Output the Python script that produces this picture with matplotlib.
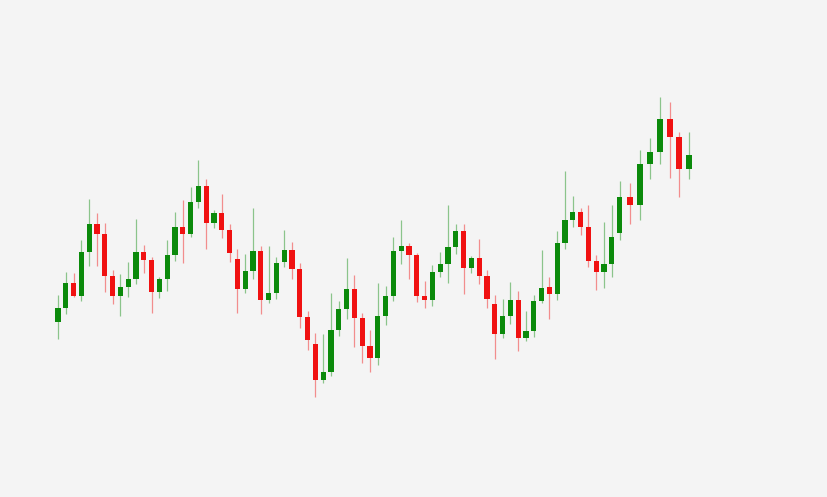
import matplotlib
matplotlib.use("Agg")
import matplotlib.pyplot as plt

# sample times (the last candles are spaced slightly wider in the source)
t = list(range(73)) + [73.33, 74.62, 75.90, 77.18, 78.46, 79.62, 80.90]

opens = [178, 192, 217, 204, 248, 276, 266, 224, 204, 213,
         221, 248, 240, 208, 221, 245, 273, 266, 298, 314,
         277, 287, 270, 241, 211, 229, 249, 200, 207, 238,
         250, 231, 183, 156, 120, 128, 170, 191, 211, 182,
         154, 142, 184, 204, 249, 254, 245, 204, 200, 228,
         236, 253, 269, 232, 242, 224, 196, 166, 184, 200,
         162, 169, 199, 213, 206, 257, 280, 288, 273, 239,
         228, 236, 267, 303, 295, 336, 348, 381, 363, 331]
closes = [192, 217, 204, 248, 276, 266, 224, 204, 213, 221,
          248, 240, 208, 221, 245, 273, 266, 298, 314, 277,
          287, 270, 247, 211, 229, 249, 200, 207, 237, 250,
          231, 183, 160, 120, 128, 170, 191, 211, 182, 154,
          142, 184, 204, 249, 254, 245, 204, 200, 228, 236,
          253, 269, 232, 242, 224, 201, 166, 184, 200, 162,
          169, 199, 212, 206, 257, 280, 288, 273, 239, 228,
          236, 263, 303, 295, 336, 348, 381, 363, 331, 345]
highs = [205, 228, 227, 260, 301, 287, 277, 230, 226, 238,
         281, 255, 243, 223, 260, 288, 300, 313, 340, 321,
         290, 306, 276, 251, 246, 292, 254, 254, 243, 270,
         258, 237, 189, 167, 166, 207, 199, 242, 225, 187,
         170, 217, 214, 263, 280, 257, 247, 219, 235, 248,
         295, 276, 276, 244, 261, 230, 205, 201, 218, 209,
         189, 205, 250, 223, 269, 329, 304, 292, 295, 245,
         278, 295, 319, 317, 350, 362, 403, 398, 368, 368]
lows = [161, 186, 203, 199, 234, 234, 208, 196, 184, 203,
        216, 227, 187, 202, 209, 239, 237, 263, 292, 251,
        272, 262, 238, 187, 207, 221, 186, 197, 201, 233,
        221, 172, 150, 103, 117, 124, 164, 181, 153, 137,
        128, 135, 175, 199, 236, 221, 198, 192, 194, 223,
        217, 246, 206, 227, 216, 192, 141, 162, 176, 149,
        159, 163, 197, 181, 200, 251, 273, 265, 233, 210,
        212, 223, 260, 276, 280, 321, 336, 322, 303, 321]

fig = plt.figure(figsize=(8.28, 4.97), dpi=100, facecolor="#f4f4f4")
ax = fig.add_axes([0, 0, 1, 1])
ax.set_facecolor("#f4f4f4")

green = "#0b8a0b"
red = "#f01111"

for x, o, c, h, l in zip(t, opens, closes, highs, lows):
    col = green if c >= o else red
    ax.vlines(x, l, h, color=col, alpha=0.45, linewidth=0.9, zorder=1)
    ax.bar(x, abs(c - o), bottom=min(o, c), width=0.66, color=col,
           edgecolor="none", zorder=2)

ax.set_xlim(-58 / 7.8, (828 - 58) / 7.8)
ax.set_ylim(3, 500)
ax.axis("off")

fig.savefig("out.png", dpi=100, facecolor=fig.get_facecolor())
